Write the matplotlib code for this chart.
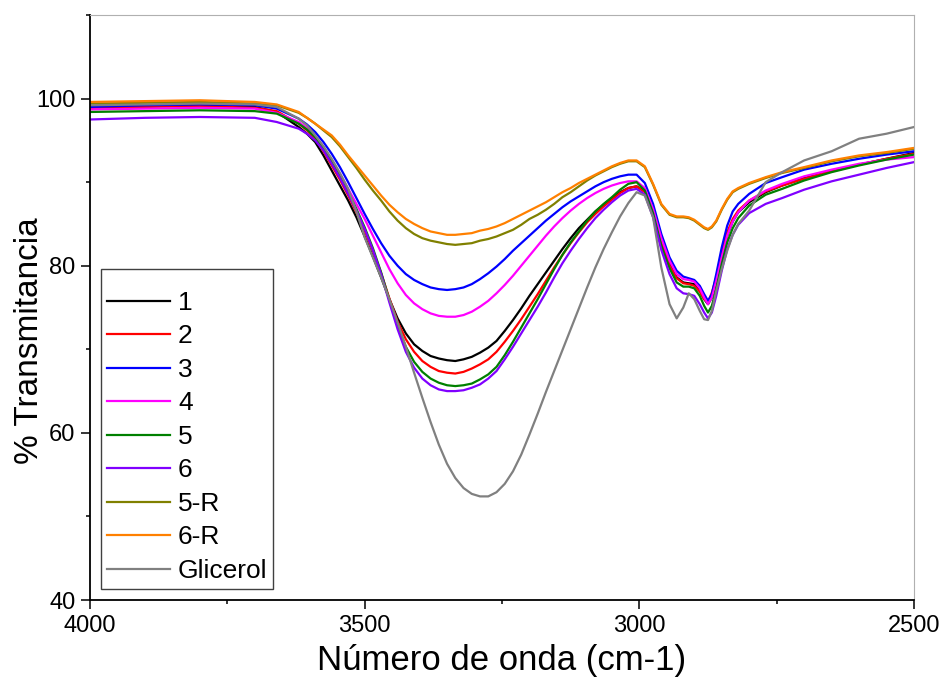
import matplotlib.pyplot as plt
from matplotlib.ticker import MultipleLocator

plt.rcParams['font.family'] = ['Liberation Sans', 'DejaVu Sans']

# wavenumber grid (cm-1) shared by all spectra
wavenumber = [4000, 3900, 3800, 3700, 3660,
              3620, 3605, 3590, 3575, 3560, 3545, 3530, 3515, 3500, 3485,
              3470, 3455, 3440, 3425, 3410, 3395, 3380, 3365, 3350, 3335,
              3320, 3305, 3290, 3275, 3260, 3245, 3230, 3215, 3200, 3185,
              3170, 3155, 3140, 3125, 3110, 3095, 3080, 3065, 3050, 3035,
              3020, 3005, 2990, 2975, 2960, 2945, 2932, 2920, 2910, 2900,
              2890, 2882, 2875, 2868, 2860, 2850, 2840, 2830, 2820, 2800,
              2770, 2740, 2700, 2650, 2600, 2550, 2500]

t1 = [99.0, 99.1, 99.2, 99.0, 98.4,
      96.6, 95.8, 94.8, 93.2, 91.4, 89.6, 87.8, 85.8, 83.5, 81.1,
      78.6, 76.0, 73.7, 71.9, 70.6, 69.8, 69.2, 68.9, 68.7, 68.6,
      68.8, 69.1, 69.6, 70.2, 71.0, 72.2, 73.5, 74.9, 76.4, 77.8,
      79.2, 80.6, 82.0, 83.3, 84.5, 85.5, 86.5, 87.3, 88.1, 88.8,
      89.3, 89.5, 88.9, 86.4, 82.8, 80.2, 78.6, 78.0, 77.9, 77.8,
      77.0, 76.0, 75.4, 76.2, 78.0, 81.0, 83.6, 85.3, 86.4, 87.6,
      88.8, 89.6, 90.5, 91.3, 92.1, 92.8, 93.5]
t2 = [98.9, 99.0, 99.1, 98.9, 98.5,
      97.0, 96.2, 95.2, 93.7, 92.0, 90.3, 88.4, 86.4, 84.2, 81.8,
      79.1, 76.1, 73.3, 71.2, 69.7, 68.6, 67.9, 67.4, 67.2, 67.1,
      67.3, 67.7, 68.2, 68.8, 69.7, 70.9, 72.2, 73.6, 75.1, 76.6,
      78.2, 79.8, 81.3, 82.7, 84.0, 85.2, 86.2, 87.1, 87.9, 88.7,
      89.3, 89.5, 88.8, 86.3, 82.7, 80.0, 78.5, 77.9, 77.8, 77.6,
      76.9, 76.0, 75.6, 76.8, 78.6, 81.6, 84.0, 85.6, 86.6, 87.8,
      88.9, 89.6, 90.4, 91.3, 92.1, 92.8, 93.4]
t3 = [99.0, 99.2, 99.3, 99.2, 98.8,
      97.6, 96.9, 96.0, 94.8, 93.4, 91.8, 90.0, 88.1, 86.2, 84.4,
      82.7, 81.2, 80.0, 79.0, 78.3, 77.8, 77.4, 77.2, 77.1, 77.2,
      77.4, 77.8, 78.4, 79.1, 79.9, 80.8, 81.8, 82.7, 83.6, 84.5,
      85.4, 86.2, 87.0, 87.7, 88.3, 88.9, 89.5, 90.0, 90.4, 90.7,
      90.9, 90.9, 89.9, 87.4, 83.8, 81.0, 79.4, 78.7, 78.5, 78.3,
      77.6, 76.6, 75.8, 76.6, 79.0, 82.2, 84.8, 86.5, 87.4, 88.6,
      89.9, 90.6, 91.5, 92.2, 92.8, 93.3, 93.7]
t4 = [98.7, 98.8, 98.9, 98.8, 98.3,
      97.2, 96.5, 95.5, 94.2, 92.6, 91.0, 89.2, 87.4, 85.6, 83.6,
      81.6, 79.6, 77.9, 76.5, 75.5, 74.8, 74.3, 74.0, 73.9, 73.9,
      74.1, 74.5, 75.1, 75.8, 76.7, 77.7, 78.8, 80.0, 81.2, 82.4,
      83.6, 84.7, 85.7, 86.6, 87.4, 88.1, 88.7, 89.2, 89.6, 89.9,
      90.1, 90.1, 89.3, 86.8, 83.3, 80.6, 79.0, 78.4, 78.3, 78.1,
      77.3, 76.2, 75.4, 76.2, 78.2, 81.0, 83.6, 85.3, 86.4, 87.8,
      89.0, 89.8, 90.7, 91.5, 92.2, 92.7, 93.0]
t5 = [98.4, 98.5, 98.6, 98.5, 98.2,
      97.0, 96.3, 95.4, 94.0, 92.4, 90.7, 88.8, 86.8, 84.6, 82.1,
      79.2, 75.9, 72.8, 70.3, 68.5, 67.3, 66.5, 66.0, 65.7, 65.6,
      65.7, 65.9, 66.4, 67.0, 67.9, 69.3, 70.9, 72.6, 74.3, 76.0,
      77.8, 79.6, 81.3, 82.8, 84.1, 85.4, 86.5, 87.4, 88.2, 89.1,
      89.8, 90.0, 89.0, 86.3, 82.4, 79.7, 78.0, 77.5, 77.5, 77.3,
      76.4, 75.2, 74.4, 75.2, 77.2, 80.2, 82.8, 84.5, 85.7, 87.2,
      88.5, 89.2, 90.2, 91.2, 92.0, 92.7, 93.3]
t6 = [97.5, 97.7, 97.8, 97.7, 97.2,
      96.4, 95.8, 95.0, 93.8, 92.2, 90.5, 88.6, 86.6, 84.4, 81.9,
      79.0, 75.6, 72.4, 69.7, 67.8, 66.5, 65.7, 65.2, 65.0, 65.0,
      65.1, 65.4, 65.8, 66.5, 67.4, 68.8, 70.3, 71.9, 73.5, 75.1,
      76.8, 78.6, 80.3, 81.8, 83.2, 84.5, 85.7, 86.7, 87.6, 88.4,
      89.0, 89.2, 88.5, 85.8, 81.9, 79.0, 77.3, 76.7, 76.6, 76.4,
      75.4, 74.4, 73.7, 74.4, 76.4, 79.4, 82.0, 83.7, 84.9, 86.3,
      87.4, 88.1, 89.1, 90.1, 90.9, 91.7, 92.4]
t5r = [99.4, 99.5, 99.6, 99.4, 99.2,
       98.3, 97.7, 97.0, 96.2, 95.4, 94.3, 93.0, 91.7, 90.3, 89.0,
       87.8, 86.5, 85.4, 84.5, 83.8, 83.3, 83.0, 82.8, 82.6, 82.5,
       82.6, 82.7, 83.0, 83.2, 83.5, 83.9, 84.3, 84.9, 85.6, 86.1,
       86.7, 87.4, 88.2, 88.8, 89.5, 90.2, 90.8, 91.3, 91.8, 92.2,
       92.5, 92.5, 91.8, 89.7, 87.3, 86.1, 85.8, 85.8, 85.7, 85.4,
       84.9, 84.5, 84.3, 84.6, 85.3, 86.7, 87.9, 88.8, 89.2, 89.8,
       90.5, 91.1, 91.7, 92.5, 93.1, 93.5, 94.0]
t6r = [99.6, 99.7, 99.8, 99.6, 99.3,
       98.4, 97.7, 97.0, 96.3, 95.6, 94.5, 93.2, 92.0, 90.8, 89.6,
       88.4, 87.3, 86.4, 85.6, 85.0, 84.5, 84.1, 83.9, 83.7, 83.7,
       83.8, 83.9, 84.2, 84.4, 84.7, 85.1, 85.6, 86.1, 86.6, 87.1,
       87.6, 88.2, 88.8, 89.3, 89.9, 90.4, 90.9, 91.4, 91.9, 92.3,
       92.6, 92.6, 91.9, 89.8, 87.4, 86.2, 85.9, 85.9, 85.8, 85.5,
       85.0, 84.6, 84.4, 84.7, 85.4, 86.8, 88.0, 88.9, 89.3, 89.9,
       90.6, 91.2, 91.8, 92.6, 93.2, 93.6, 94.1]
glicerol = [99.2, 99.3, 99.4, 99.3, 99.0,
            97.6, 96.8, 95.6, 94.3, 92.8, 91.1, 89.2, 86.5, 83.4, 81.0,
            78.6, 76.0, 73.2, 70.3, 67.2, 64.2, 61.3, 58.6, 56.3, 54.6,
            53.4, 52.7, 52.4, 52.4, 52.9, 53.9, 55.4, 57.4, 59.8, 62.3,
            64.9, 67.4, 69.9, 72.4, 74.9, 77.4, 79.8, 82.0, 84.0, 85.9,
            87.5, 88.8, 88.4, 85.8, 79.8, 75.4, 73.7, 75.0, 76.7, 76.0,
            74.6, 73.6, 73.5, 74.6, 77.0, 79.6, 81.8, 83.7, 85.0, 86.6,
            90.0, 91.2, 92.6, 93.7, 95.2, 95.8, 96.6]

labels = ['1', '2', '3', '4', '5', '6', '5-R', '6-R', 'Glicerol']
series = [t1, t2, t3, t4, t5, t6, t5r, t6r, glicerol]
colors = ['#000000', '#ff0000', '#0000ff', '#ff00ff', '#008000',
          '#8000ff', '#808000', '#ff8000', '#808080']

fig = plt.figure(figsize=(9.42, 6.77), dpi=100)
ax = fig.add_axes([0.0955, 0.1137, 0.8748, 0.8641])

for y, lab, c in zip(series, labels, colors):
    ax.plot(wavenumber, y, color=c, lw=1.6, label=lab)

ax.set_xlim(4000, 2500)
ax.set_ylim(40, 110)
ax.xaxis.set_major_locator(MultipleLocator(500))
ax.xaxis.set_minor_locator(MultipleLocator(250))
ax.set_yticks([40, 60, 80, 100])
ax.yaxis.set_minor_locator(MultipleLocator(10))
ax.tick_params(which='major', direction='out', length=6.5, width=1.1,
               labelsize=17, pad=4, top=False, right=False)
ax.tick_params(which='minor', direction='out', length=3.2, width=1.1,
               top=False, right=False)

for side in ['left', 'bottom']:
    ax.spines[side].set_linewidth(1.3)
    ax.spines[side].set_color('black')
for side in ['top', 'right']:
    ax.spines[side].set_linewidth(0.8)
    ax.spines[side].set_color('#b0b0b0')

ax.set_xlabel('Número de onda (cm-1)', fontsize=25, labelpad=5)
ax.set_ylabel('% Transmitancia', fontsize=24)
ax.yaxis.set_label_coords(-0.054, 0.443)

leg = ax.legend(loc='lower left', bbox_to_anchor=(0.0133, 0.0195),
                fontsize=19, frameon=True, fancybox=False, framealpha=1,
                handlelength=2.4, handletextpad=0.3, labelspacing=0.36,
                borderpad=0.22, borderaxespad=0, title=' ', title_fontsize=6)
leg.get_frame().set_edgecolor('#404040')
leg.get_frame().set_linewidth(1.0)

fig.savefig('out.png', dpi=100)
